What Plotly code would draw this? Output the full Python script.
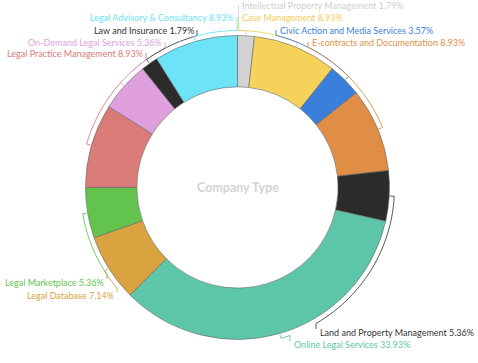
import math
import plotly.graph_objects as go

# ---- data ----
categories = [
    "Intellectual Property Management", "Case Management",
    "Civic Action and Media Services", "E-contracts and Documentation",
    "Land and Property Management", "Online Legal Services",
    "Legal Database", "Legal Marketplace", "Legal Practice Management",
    "On-Demand Legal Services", "Law and Insurance",
    "Legal Advisory & Consultancy",
]
counts = [1, 5, 2, 5, 3, 19, 4, 3, 5, 3, 1, 5]
colors = ["#d3d3d3", "#f5d35a", "#3a7fd9", "#e08e45", "#2b2b2b", "#5ec6a8",
          "#d9a33f", "#62c44d", "#d97c77", "#e0a0dd", "#2b2b2b", "#6de3f8"]
text_colors = ["#cfcfcf", "#f2cd55", "#3a7fd9", "#e08e45", "#333333", "#5ec6a8",
               "#d9a33f", "#62c44d", "#d97c77", "#e0a0dd", "#333333", "#6de3f8"]
center_title = "Company Type"

# ---- layout (pixels) ----
W, H = 478, 363
cx, cy, R = 237.5, 187.5, 152.0
hole = 0.662
r_arc = 157.0
r_tick = 153.0
# label anchor: (x, y, half, side)
label_pos = [
    (238.5, 5, "top", "left"), (238.5, 17, "top", "left"),
    (276, 30, "top", "left"), (308, 42, "top", "left"),
    (316, 332, "bottom", "left"), (290, 344, "bottom", "left"),
    (117, 295, "bottom", "right"), (107, 282, "bottom", "right"),
    (146, 53, "top", "right"), (165, 42, "top", "right"),
    (197, 30, "top", "right"), (237, 17, "top", "right"),
]

total = sum(counts)
pcts = [c / total * 100 for c in counts]

fig = go.Figure()
fig.add_trace(go.Pie(
    labels=categories, values=counts, sort=False, direction="clockwise",
    rotation=0, hole=hole, textinfo="none", hoverinfo="label+percent",
    marker=dict(colors=colors, line=dict(color="#666666", width=0.6)),
    domain=dict(x=[(cx - R) / W, (cx + R) / W],
                y=[1 - (cy + R) / H, 1 - (cy - R) / H]),
    showlegend=False,
))


def pt(theta_deg, r):
    t = math.radians(theta_deg)
    return cx + r * math.sin(t), cy - r * math.cos(t)


shapes = []
annotations = []
cum = 0.0
for i, (cat, c) in enumerate(zip(categories, counts)):
    a0 = cum / total * 360
    cum += c
    a1 = cum / total * 360
    am = (a0 + a1) / 2
    lx, ly, half, side = label_pos[i]
    s = max(-1, min(1, (lx - cx) / r_arc))
    base = math.degrees(math.asin(s))
    if half == "top":
        tl = base % 360
        if abs(tl - am) > 180:
            tl += 360 if tl < am else -360
    else:
        tl = 180 - base
    n = max(2, int(abs(tl - am) / 2) + 2)
    x0, y0 = pt(am, r_tick)
    path = f"M {x0:.2f},{y0:.2f}"
    for k in range(n + 1):
        th = am + (tl - am) * k / n
        x, y = pt(th, r_arc)
        path += f" L {x:.2f},{y:.2f}"
    path += f" L {lx:.2f},{ly - (3 if half == 'bottom' else 0):.2f}"
    shapes.append(dict(type="path", path=path, xref="x", yref="y",
                       line=dict(color=colors[i] if colors[i] != "#2b2b2b" else "#444444", width=0.9)))
    annotations.append(dict(
        x=lx + (1.5 if side == "left" else -1.5), y=ly, xref="x", yref="y",
        text=f"{cat} {pcts[i]:.2f}%", showarrow=False,
        xanchor=side, yanchor="middle",
        font=dict(family="Lato", size=9, color=text_colors[i]),
    ))

annotations.append(dict(x=cx, y=cy, xref="x", yref="y", text=f"<b>{center_title}</b>",
                        showarrow=False, xanchor="center", yanchor="middle",
                        font=dict(family="Lato", size=12.5, color="#d3d3d3")))

fig.update_layout(
    width=W, height=H, margin=dict(l=0, r=0, t=0, b=0),
    paper_bgcolor="white", plot_bgcolor="rgba(0,0,0,0)",
    xaxis=dict(range=[0, W], visible=False, fixedrange=True),
    yaxis=dict(range=[H, 0], visible=False, fixedrange=True),
    shapes=shapes, annotations=annotations,
)
fig.write_html("out.html", config={"displayModeBar": False},
               post_script="document.body.style.margin='0';")
